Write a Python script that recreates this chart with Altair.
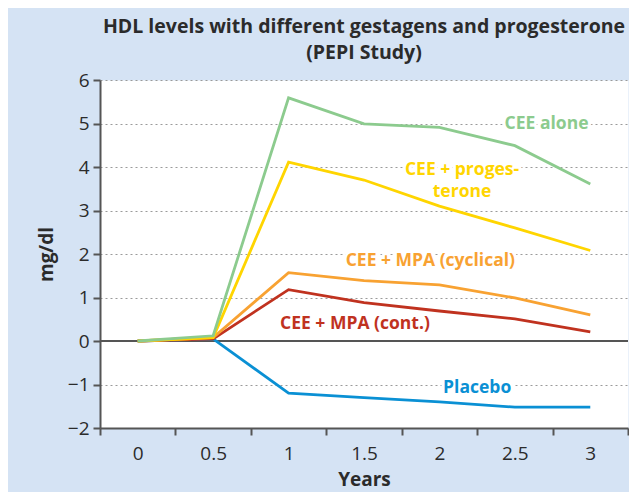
import altair as alt
import pandas as pd

years = [0, 0.5, 1, 1.5, 2, 2.5, 3]
year_labels = ["0", "0.5", "1", "1.5", "2", "2.5", "3"]

series_names = ["Placebo", "CEE + MPA (cont.)", "CEE + MPA (cyclical)", "CEE + progesterone", "CEE alone"]
placebo = [0, 0.05, -1.2, -1.3, -1.4, -1.52, -1.52]
cee_mpa_cont = [0, 0.05, 1.18, 0.88, 0.69, 0.51, 0.21]
cee_mpa_cyc = [0, 0.08, 1.57, 1.39, 1.29, 0.99, 0.60]
cee_prog = [0, 0.08, 4.11, 3.70, 3.10, 2.60, 2.08]
cee_alone = [0, 0.12, 5.59, 4.99, 4.91, 4.49, 3.61]
series_colors = ["#0a90d4", "#c0321f", "#f8a232", "#ffd500", "#8ccb8e"]

label_texts = ["CEE alone", "CEE + proges-", "terone", "CEE + MPA (cyclical)", "CEE + MPA (cont.)", "Placebo"]
label_series = ["CEE alone", "CEE + progesterone", "CEE + progesterone", "CEE + MPA (cyclical)", "CEE + MPA (cont.)", "Placebo"]
label_x = [2.71, 2.15, 2.15, 1.94, 1.44, 2.25]
label_y = [4.87, 3.82, 3.32, 1.72, 0.28, -1.19]

FONT = "Open Sans"
AXIS_COLOR = "#555555"
TEXT_COLOR = "#2b2b2b"

all_values = [placebo, cee_mpa_cont, cee_mpa_cyc, cee_prog, cee_alone]
rows = []
for name, vals in zip(series_names, all_values):
    for yr, lab, v in zip(years, year_labels, vals):
        rows.append({"series": name, "year": yr, "year_label": lab, "value": v})
df = pd.DataFrame(rows)

labels_df = pd.DataFrame({"text": label_texts, "series": label_series, "x": label_x, "y": label_y})

color_scale = alt.Scale(domain=series_names, range=series_colors)
y_enc = alt.Y(
    "value:Q",
    scale=alt.Scale(domain=[-2, 6], nice=False, zero=False),
    axis=alt.Axis(
        values=list(range(-2, 7)),
        grid=True,
        gridDash=[2, 3],
        gridColor="#9a9a9a",
        gridWidth=1,
        tickSize=7,
        tickWidth=2,
        tickColor=AXIS_COLOR,
        domainColor=AXIS_COLOR,
        domainWidth=2,
        labelFont=FONT,
        labelFontSize=19,
        labelColor=TEXT_COLOR,
        labelPadding=4,
        title="mg/dl",
        titleFont=FONT,
        titleFontSize=19,
        titleFontWeight="bold",
        titleColor=TEXT_COLOR,
        titlePadding=11,
    ),
)
x_q = alt.X("year:Q", scale=alt.Scale(domain=[-0.25, 3.25], nice=False, zero=False), axis=None)

axis_layer = alt.Chart(df).mark_point(opacity=0).encode(
    x=alt.X(
        "year_label:O",
        sort=year_labels,
        scale=alt.Scale(type="band", paddingInner=0, paddingOuter=0),
        axis=alt.Axis(
            tickBand="extent",
            labelAngle=0,
            grid=False,
            tickSize=7,
            tickWidth=2,
            tickColor=AXIS_COLOR,
            domainColor=AXIS_COLOR,
            domainWidth=2,
            labelFont=FONT,
            labelFontSize=19,
            labelColor=TEXT_COLOR,
            labelPadding=9,
            title="Years",
            titleFont=FONT,
            titleFontSize=19,
            titleFontWeight="bold",
            titleColor=TEXT_COLOR,
            titlePadding=7,
        ),
    ),
    y=y_enc,
)

zero_rule = alt.Chart(df).mark_rule(color=AXIS_COLOR, strokeWidth=2).encode(y=alt.datum(0))

lines = alt.Chart(df).mark_line(strokeWidth=2.8).encode(
    x=x_q,
    y=y_enc,
    color=alt.Color("series:N", scale=color_scale, legend=None),
    order=alt.Order("year:Q"),
)

text_x = alt.X("x:Q", scale=alt.Scale(domain=[-0.25, 3.25], nice=False, zero=False), axis=None)
text_y = alt.Y("y:Q", scale=alt.Scale(domain=[-2, 6], nice=False, zero=False))

halo = alt.Chart(labels_df).mark_text(
    font=FONT, fontSize=17.5, fontWeight="bold", align="center", baseline="alphabetic",
    stroke="white", strokeWidth=6, strokeJoin="round", fill="white",
).encode(x=text_x, y=text_y, text="text:N")

texts = alt.Chart(labels_df).mark_text(
    font=FONT, fontSize=17.5, fontWeight="bold", align="center", baseline="alphabetic",
).encode(
    x=text_x, y=text_y, text="text:N",
    color=alt.Color("series:N", scale=color_scale, legend=None),
)

chart = alt.layer(axis_layer, zero_rule, halo, lines, texts).resolve_scale(x="independent").properties(
    width=528,
    height=348,
    autosize=alt.AutoSizeParams(type="none"),
    padding={"left": 92, "top": 72, "right": 1, "bottom": 70},
    background="#d5e3f4",
    title=alt.TitleParams(
        text=["HDL levels with different gestagens and progesterone", "(PEPI Study)"],
        font=FONT,
        fontSize=19.5,
        fontWeight="bold",
        color=TEXT_COLOR,
        anchor="middle",
        lineHeight=26,
        offset=8,
    ),
).configure_view(fill="white", stroke="transparent")

chart.save("out.html", embed_options={"renderer": "svg", "actions": False})
